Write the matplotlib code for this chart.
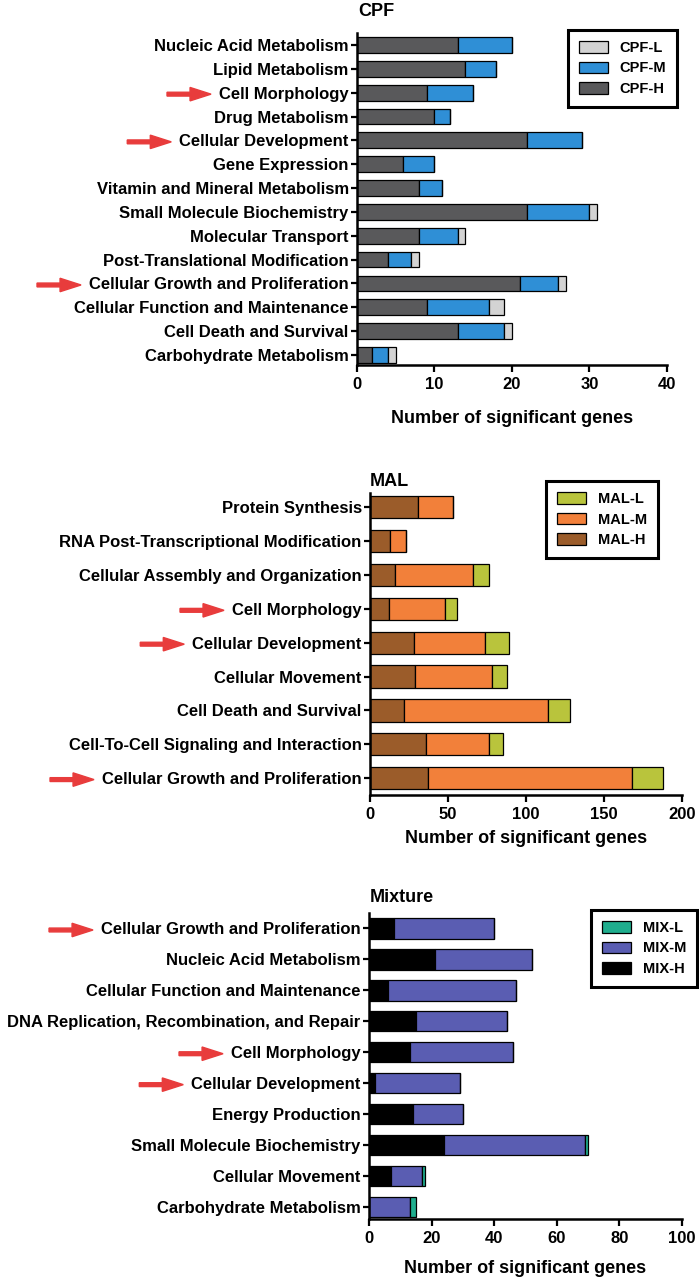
import matplotlib
matplotlib.use("Agg")
import matplotlib.pyplot as plt
from matplotlib.patches import FancyArrow

plt.rcParams['font.family'] = ['Liberation Sans', 'DejaVu Sans']
plt.rcParams['font.weight'] = 'bold'

# CPF panel data (top to bottom)
cpf_terms = ["Nucleic Acid Metabolism", "Lipid Metabolism", "Cell Morphology", "Drug Metabolism",
             "Cellular Development", "Gene Expression", "Vitamin and Mineral Metabolism",
             "Small Molecule Biochemistry", "Molecular Transport", "Post-Translational Modification",
             "Cellular Growth and Proliferation", "Cellular Function and Maintenance",
             "Cell Death and Survival", "Carbohydrate Metabolism"]
cpf_h = [13, 14, 9, 10, 22, 6, 8, 22, 8, 4, 21, 9, 13, 2]
cpf_m = [7, 4, 6, 2, 7, 4, 3, 8, 5, 3, 5, 8, 6, 2]
cpf_l = [0, 0, 0, 0, 0, 0, 0, 1, 1, 1, 1, 2, 1, 1]

# MAL panel data
mal_terms = ["Protein Synthesis", "RNA Post-Transcriptional Modification",
             "Cellular Assembly and Organization", "Cell Morphology", "Cellular Development",
             "Cellular Movement", "Cell Death and Survival", "Cell-To-Cell Signaling and Interaction",
             "Cellular Growth and Proliferation"]
mal_h = [31, 13, 16, 12, 28, 29, 22, 36, 37]
mal_m = [22, 10, 50, 36, 46, 49, 92, 40, 131]
mal_l = [0, 0, 10, 8, 15, 10, 14, 9, 20]

# Mixture panel data
mix_terms = ["Cellular Growth and Proliferation", "Nucleic Acid Metabolism",
             "Cellular Function and Maintenance", "DNA Replication, Recombination, and Repair",
             "Cell Morphology", "Cellular Development", "Energy Production",
             "Small Molecule Biochemistry", "Cellular Movement", "Carbohydrate Metabolism"]
mix_h = [8, 21, 6, 15, 13, 2, 14, 24, 7, 0]
mix_m = [32, 31, 41, 29, 33, 27, 16, 45, 10, 13]
mix_l = [0, 0, 0, 0, 0, 0, 0, 1, 1, 2]

arrow_terms = ["Cell Morphology", "Cellular Development", "Cellular Growth and Proliferation"]

panels = [
    dict(title="CPF", terms=cpf_terms, h=cpf_h, m=cpf_m, l=cpf_l,
         names=["CPF-H", "CPF-M", "CPF-L"], colors=["#59595b", "#2f8fd6", "#d3d3d3"],
         rect=[0.5107, 0.7148, 0.4435, 0.2594], xmax=40, xticks=[0, 10, 20, 30, 40],
         ylim=(13.42, -0.5), leg=(0.9685, 0.9766), title_xy=(358, 12), lpad=13),
    dict(title="MAL", terms=mal_terms, h=mal_h, m=mal_m, l=mal_l,
         names=["MAL-H", "MAL-M", "MAL-L"], colors=["#9b5c2a", "#f2803a", "#b9c43c"],
         rect=[0.5293, 0.3789, 0.4464, 0.2359], xmax=200, xticks=[0, 50, 100, 150, 200],
         ylim=(8.5, -0.42), leg=(0.9413, 0.6242), title_xy=(370, 482), lpad=6),
    dict(title="Mixture", terms=mix_terms, h=mix_h, m=mix_m, l=mix_l,
         names=["MIX-H", "MIX-M", "MIX-L"], colors=["#000000", "#5a5db2", "#1fae8e"],
         rect=[0.5279, 0.0477, 0.4478, 0.2390], xmax=100, xticks=[0, 20, 40, 60, 80, 100],
         ylim=(9.39, -0.5), leg=(0.9971, 0.2891), title_xy=(370, 897), lpad=10),
]

fig = plt.figure(figsize=(6.99, 12.8), dpi=100)
W, H = 699.0, 1280.0

axes = []
for p in panels:
    ax = fig.add_axes(p["rect"])
    ypos = list(range(len(p["terms"])))
    left_m = p["h"]
    left_l = [a + b for a, b in zip(p["h"], p["m"])]
    bh = ax.barh(ypos, p["h"], height=0.66, color=p["colors"][0], edgecolor="black", linewidth=0.9)
    bm = ax.barh(ypos, p["m"], left=left_m, height=0.66, color=p["colors"][1], edgecolor="black", linewidth=0.9)
    bl = ax.barh(ypos, p["l"], left=left_l, height=0.66, color=p["colors"][2], edgecolor="black", linewidth=0.9)
    ax.set_ylim(*p["ylim"])
    ax.set_xlim(0, p["xmax"])
    ax.set_xticks(p["xticks"])
    ax.set_yticks(ypos)
    ax.set_yticklabels(p["terms"], fontsize=12, fontweight="bold")
    ax.tick_params(axis="x", labelsize=12, width=1.6, length=5)
    ax.tick_params(axis="y", width=1.6, length=4, pad=2)
    for lab in ax.get_xticklabels():
        lab.set_fontweight("bold")
    for s in ["top", "right"]:
        ax.spines[s].set_visible(False)
    for s in ["left", "bottom"]:
        ax.spines[s].set_linewidth(1.8)
    ax.set_xlabel("Number of significant genes", fontsize=13, fontweight="bold", labelpad=p["lpad"])
    fig.text(p["title_xy"][0] / W, 1 - p["title_xy"][1] / H, p["title"], fontsize=13,
             fontweight="bold", ha="left", va="center")
    leg = ax.legend([bl, bm, bh], p["names"][::-1], loc="upper right",
                    bbox_to_anchor=p["leg"], bbox_transform=fig.transFigure, borderaxespad=0,
                    fancybox=False, edgecolor="black", framealpha=1, fontsize=10.5,
                    handlelength=2.0, handleheight=0.85, borderpad=0.75, labelspacing=0.45)
    leg.get_frame().set_linewidth(2.2)
    axes.append(ax)

# red arrows left of the highlighted terms
fig.canvas.draw()
renderer = fig.canvas.get_renderer()
for ax in axes:
    for lab in ax.get_yticklabels():
        if lab.get_text() in arrow_terms:
            bb = lab.get_window_extent(renderer)
            x1 = (bb.x0 - 8) / W
            x0 = (bb.x0 - 52) / W
            yc = (bb.y0 + bb.y1) / 2 / H
            fig.add_artist(FancyArrow(x0, yc, x1 - x0, 0, width=0.003, head_width=0.0105,
                                      head_length=0.03, length_includes_head=True,
                                      color="#e83c3c", transform=fig.transFigure))

fig.savefig("out.png", dpi=100)
